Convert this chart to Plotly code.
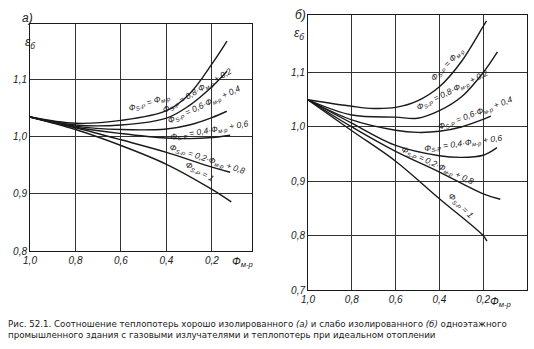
import plotly.graph_objects as go

# ---------------- data ----------------
# panel a (well insulated)
a_x_top = [1.0, 0.8, 0.6, 0.4, 0.3, 0.2, 0.134]
a_y_top = [1.035, 1.024, 1.029, 1.046, 1.075, 1.128, 1.168]
a_x_08 = [1.0, 0.8, 0.6, 0.4, 0.3, 0.2, 0.134]
a_y_08 = [1.035, 1.021, 1.021, 1.033, 1.055, 1.088, 1.115]
a_x_06 = [1.0, 0.8, 0.6, 0.4, 0.3, 0.2, 0.135]
a_y_06 = [1.035, 1.019, 1.013, 1.014, 1.021, 1.034, 1.045]
a_x_04 = [1.0, 0.8, 0.6, 0.4, 0.3, 0.2, 0.12]
a_y_04 = [1.035, 1.017, 1.006, 0.998, 0.997, 0.999, 1.003]
a_x_02 = [1.0, 0.8, 0.6, 0.4, 0.2, 0.12]
a_y_02 = [1.035, 1.016, 0.995, 0.973, 0.947, 0.938]
a_x_1 = [1.0, 0.8, 0.6, 0.4, 0.2, 0.115]
a_y_1 = [1.035, 1.013, 0.985, 0.952, 0.908, 0.886]

# panel b (poorly insulated)
b_x_top = [1.0, 0.8, 0.7, 0.6, 0.5, 0.4, 0.3, 0.2, 0.185]
b_y_top = [1.05, 1.038, 1.034, 1.036, 1.048, 1.074, 1.12, 1.185, 1.195]
b_x_08 = [1.0, 0.8, 0.6, 0.5, 0.4, 0.3, 0.2, 0.135]
b_y_08 = [1.05, 1.022, 1.018, 1.016, 1.03, 1.055, 1.10, 1.138]
b_x_06 = [1.0, 0.8, 0.6, 0.5, 0.4, 0.3, 0.2, 0.165]
b_y_06 = [1.05, 1.013, 0.994, 0.99, 0.992, 1.0, 1.014, 1.02]
b_x_04 = [1.0, 0.8, 0.6, 0.4, 0.3, 0.2, 0.137]
b_y_04 = [1.05, 1.007, 0.966, 0.947, 0.944, 0.948, 0.962]
b_x_02 = [1.0, 0.8, 0.6, 0.4, 0.2, 0.122]
b_y_02 = [1.05, 1.0, 0.955, 0.917, 0.877, 0.867]
b_x_1 = [1.0, 0.8, 0.6, 0.4, 0.2, 0.183]
b_y_1 = [1.05, 0.993, 0.937, 0.868, 0.80, 0.79]

x_ticks = [1.0, 0.8, 0.6, 0.4, 0.2]
x_ticktext = ["1,0", "0,8", "0,6", "0,4", "0,2"]
a_y_ticks = [0.8, 0.9, 1.0, 1.1]
a_y_ticktext = ["0,8", "0,9", "1,0", "1,1"]
b_y_ticks = [0.7, 0.8, 0.9, 1.0, 1.1]
b_y_ticktext = ["0,7", "0,8", "0,9", "1,0", "1,1"]

curve_labels = [
    "Ф<sub>S-P</sub> = Ф<sub>м-р</sub>",
    "Ф<sub>S-P</sub> = 0,8·Ф<sub>м-р</sub> + 0,2",
    "Ф<sub>S-P</sub> = 0,6·Ф<sub>м-р</sub> + 0,4",
    "Ф<sub>S-P</sub> = 0,4·Ф<sub>м-р</sub> + 0,6",
    "Ф<sub>S-P</sub> = 0,2·Ф<sub>м-р</sub> + 0,8",
    "Ф<sub>S-P</sub> = 1",
]
caption = ("Рис. 52.1. Соотношение теплопотерь хорошо изолированного <i>(а)</i> и слабо изолированного <i>(б)</i> одноэтажного<br>"
           "промышленного здания с газовыми излучателями и теплопотерь при идеальном отоплении")

# ---------------- figure ----------------
INK = "#1a1a1a"
fig = go.Figure()

a_series = [(a_x_top, a_y_top), (a_x_08, a_y_08), (a_x_06, a_y_06),
            (a_x_04, a_y_04), (a_x_02, a_y_02), (a_x_1, a_y_1)]
b_series = [(b_x_top, b_y_top), (b_x_08, b_y_08), (b_x_06, b_y_06),
            (b_x_04, b_y_04), (b_x_02, b_y_02), (b_x_1, b_y_1)]

for xs, ys in a_series:
    fig.add_trace(go.Scatter(x=xs, y=ys, mode="lines", xaxis="x", yaxis="y",
                             line=dict(color=INK, width=1.4, shape="spline", smoothing=1.0),
                             showlegend=False, hoverinfo="skip"))
for xs, ys in b_series:
    fig.add_trace(go.Scatter(x=xs, y=ys, mode="lines", xaxis="x2", yaxis="y2",
                             line=dict(color=INK, width=1.4, shape="spline", smoothing=1.0),
                             showlegend=False, hoverinfo="skip"))

tickfont = dict(family="Liberation Sans", size=10, color=INK, style="italic")
axis_common = dict(showline=True, linecolor=INK, linewidth=1, mirror=True,
                   showgrid=True, gridcolor="#333", gridwidth=0.8, zeroline=False,
                   ticks="", tickfont=tickfont, fixedrange=True, automargin=False)

H = 349.0
W = 534.0
fig.update_layout(
    width=534, height=349, margin=dict(l=0, r=0, t=0, b=0, autoexpand=False),
    paper_bgcolor="white", plot_bgcolor="white", showlegend=False,
    xaxis=dict(domain=[30 / W, 252 / W], range=[1.0, 0.024], tickvals=x_ticks,
               ticktext=x_ticktext, anchor="y", **axis_common),
    yaxis=dict(domain=[1 - 251 / H, 1 - 24 / H], range=[0.8, 1.198], tickvals=a_y_ticks,
               ticktext=a_y_ticktext, anchor="x", **axis_common),
    xaxis2=dict(domain=[308 / W, 527 / W], range=[1.0, 0.0], tickvals=x_ticks,
                ticktext=x_ticktext, anchor="y2", **axis_common),
    yaxis2=dict(domain=[1 - 290 / H, 1 - 15 / H], range=[0.7, 1.206], tickvals=b_y_ticks,
                ticktext=b_y_ticktext, anchor="x2", **axis_common),
)

lab_font = dict(family="Liberation Sans", size=8.5, color=INK, style="italic")
a_lab_pos = [(0.473, 1.060, -17), (0.262, 1.081, -31), (0.231, 1.056, -25),
             (0.209, 1.012, -10), (0.218, 0.961, 18), (0.257, 0.939, 30)]
b_lab_pos = [(0.365, 1.115, -46), (0.342, 1.067, -27), (0.237, 1.025, -21),
             (0.291, 0.969, -8), (0.410, 0.929, 25), (0.305, 0.855, 45)]
for txt, (x, y, ang) in zip(curve_labels, a_lab_pos):
    fig.add_annotation(x=x, y=y, xref="x", yref="y", text=txt, showarrow=False,
                       textangle=ang, font=lab_font)
for txt, (x, y, ang) in zip(curve_labels, b_lab_pos):
    fig.add_annotation(x=x, y=y, xref="x2", yref="y2", text=txt, showarrow=False,
                       textangle=ang, font=lab_font)

big_font = dict(family="Liberation Sans", size=12, color=INK, style="italic")
fig.add_annotation(x=20 / W, y=1 - 9 / H, xref="paper", yref="paper", text="а)",
                   showarrow=False, font=big_font)
fig.add_annotation(x=300 / W, y=1 - 6 / H, xref="paper", yref="paper", text="б)",
                   showarrow=False, font=big_font)
fig.add_annotation(x=23 / W, y=1 - 33 / H, xref="paper", yref="paper", text="ε<sub>б</sub>",
                   showarrow=False, font=big_font)
fig.add_annotation(x=299 / W, y=1 - 24 / H, xref="paper", yref="paper", text="ε<sub>б</sub>",
                   showarrow=False, font=big_font)
fig.add_annotation(x=243 / W, y=1 - 262 / H, xref="paper", yref="paper", text="Ф<sub>м-р</sub>",
                   showarrow=False, yanchor="middle",
                   font=dict(family="Liberation Sans", size=11, color=INK, style="italic"))
fig.add_annotation(x=514 / W, y=1 - 302 / H, xref="paper", yref="paper", text="Ф<sub>м-р</sub>",
                   showarrow=False, yanchor="middle",
                   font=dict(family="Liberation Sans", size=11, color=INK, style="italic"))

fig.add_annotation(x=6 / W, y=1 - 329 / H, xref="paper", yref="paper", text=caption,
                   showarrow=False, xanchor="left", yanchor="middle", align="left",
                   font=dict(family="DejaVu Sans", size=8.7, color=INK))

fig.write_html("out.html")
